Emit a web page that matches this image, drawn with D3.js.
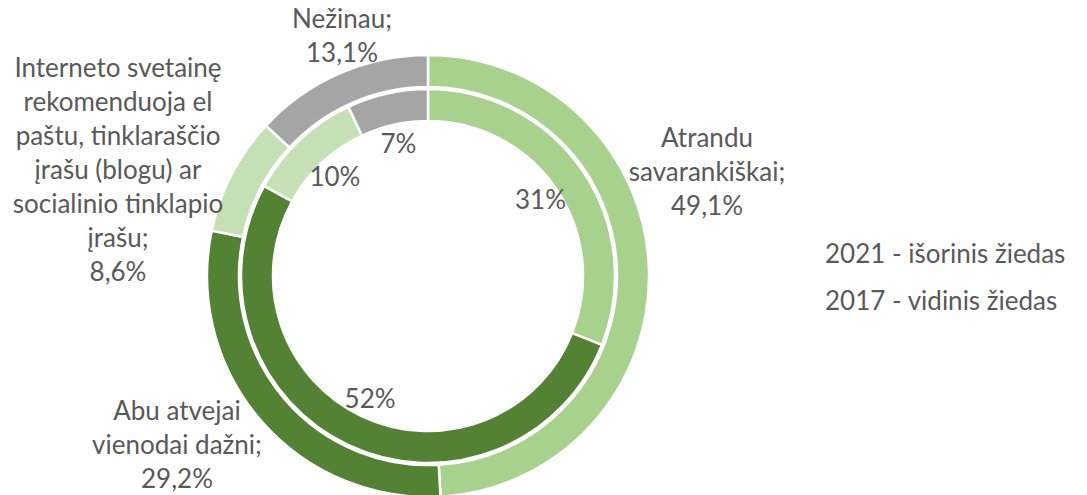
<!DOCTYPE html>
<html>
<head>
<meta charset="utf-8">
<script src="https://cdn.jsdelivr.net/npm/d3@7"></script>
<style>
  body { margin: 0; background: #fff; }
  text { font-family: Lato, "Open Sans", sans-serif; fill: #595959; }
</style>
</head>
<body>
<div id="chart"></div>
<script>
// categories and values (outer ring = 2021, inner ring = 2017)
const categories = ["Atrandu savarankiškai", "Abu atvejai vienodai dažni",
  "Interneto svetainę rekomenduoja el paštu, tinklaraščio įrašu (blogu) ar socialinio tinklapio įrašu", "Nežinau"];
const values2021 = [49.1, 29.2, 8.6, 13.1];
const values2017 = [31, 52, 10, 7];
const colors = ["#a9d18e", "#548235", "#c5e0b4", "#a5a5a5"];

// outer label text lines
const outerLabelLines = [
  ["Atrandu", "savarankiškai;", "49,1%"],
  ["Abu atvejai", "vienodai dažni;", "29,2%"],
  ["Interneto svetainę", "rekomenduoja el", "paštu, tinklaraščio", "įrašu (blogu) ar", "socialinio tinklapio", "įrašu;", "8,6%"],
  ["Nežinau;", "13,1%"]
];
const innerLabels = ["31%", "52%", "10%", "7%"];
const legendLines = ["2021 - išorinis žiedas", "2017 - vidinis žiedas"];

const width = 1087, height = 495;
const cx = 428, cy = 276;
const fontSize = 26, lineH = 34;

const svg = d3.select("#chart").append("svg")
    .attr("width", width)
    .attr("height", height);

const g = svg.append("g")
    .attr("transform", "translate(" + cx + "," + cy + ")");

const pie = d3.pie().sort(null).value(d => d);

const outerArc = d3.arc().innerRadius(189).outerRadius(221);
const innerArc = d3.arc().innerRadius(155).outerRadius(187);
const labelArc = d3.arc().innerRadius(136).outerRadius(136);

g.selectAll("path.outer").data(pie(values2021)).enter().append("path")
    .attr("class", "outer")
    .attr("d", outerArc)
    .attr("fill", (d, i) => colors[i])
    .attr("stroke", "#fff")
    .attr("stroke-width", 2.5);

g.selectAll("path.inner").data(pie(values2017)).enter().append("path")
    .attr("class", "inner")
    .attr("d", innerArc)
    .attr("fill", (d, i) => colors[i])
    .attr("stroke", "#fff")
    .attr("stroke-width", 2.5);

// inner percentage labels inside the hole
g.selectAll("text.inner-label").data(pie(values2017)).enter().append("text")
    .attr("class", "inner-label")
    .attr("transform", d => "translate(" + labelArc.centroid(d) + ")")
    .attr("text-anchor", "middle")
    .attr("dy", "0.36em")
    .style("font-size", fontSize + "px")
    .text((d, i) => innerLabels[i]);

// outer labels: first-line baseline relative to the chart centre
const outerLabelPos = [[279, -129], [-251, 144], [-310, -199], [-86, -248]];

outerLabelLines.forEach((lines, i) => {
    const t = g.append("text")
        .attr("text-anchor", "middle")
        .style("font-size", fontSize + "px");
    lines.forEach((line, j) => {
        t.append("tspan")
            .attr("x", outerLabelPos[i][0])
            .attr("y", outerLabelPos[i][1] + j * lineH)
            .text(line);
    });
});

// legend text on the right
svg.selectAll("text.legend").data(legendLines).enter().append("text")
    .attr("class", "legend")
    .attr("x", 825)
    .attr("y", (d, i) => 263 + i * 47)
    .style("font-size", fontSize + "px")
    .text(d => d);
</script>
</body>
</html>
